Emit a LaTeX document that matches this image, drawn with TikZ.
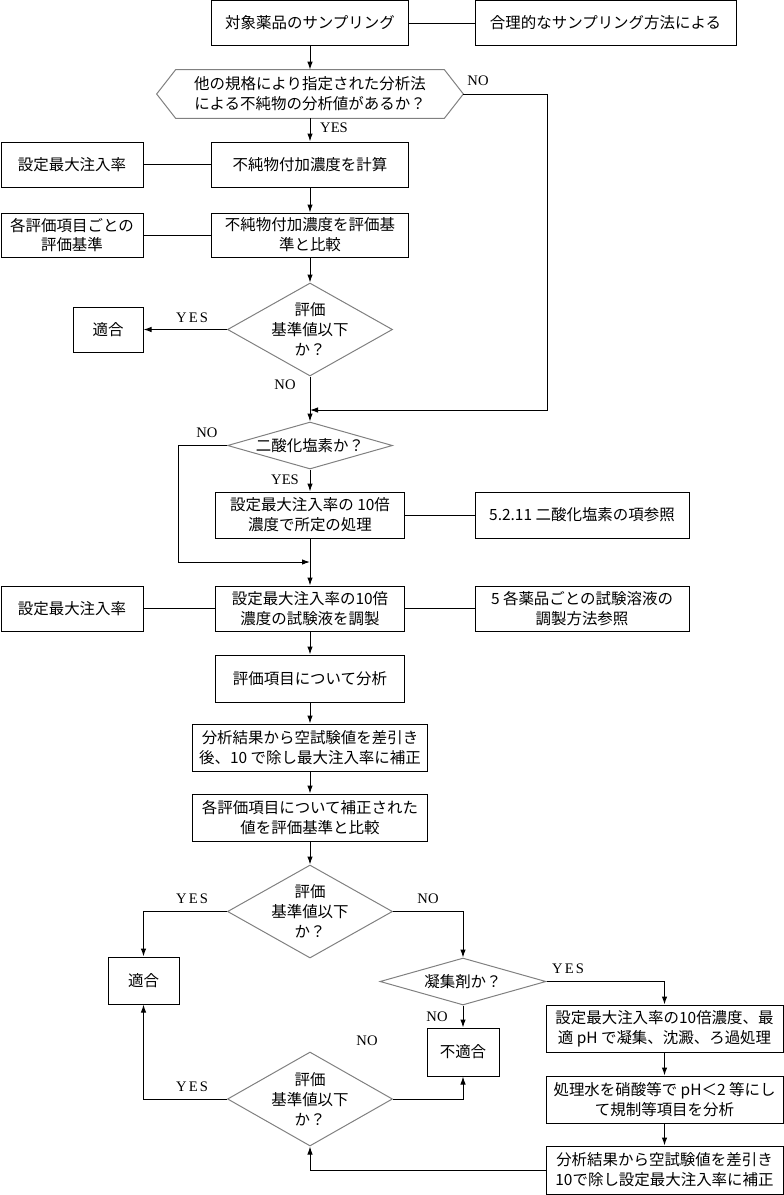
\documentclass[tikz,border=0pt]{standalone}
\usepackage{fontspec}
\setmainfont{Liberation Serif}
\newfontfamily\jfont{Noto Sans CJK JP}
\newfontfamily\lspfont[LetterSpace=15]{Liberation Serif}
\usetikzlibrary{shapes.geometric,arrows.meta}
\tikzset{
  box/.style={draw, line width=0.02cm, align=center, inner sep=0pt, font=\jfont\fontsize{8.8}{11.3}\selectfont},
  jtext/.style={align=center, inner sep=0pt, font=\jfont\fontsize{8.8}{11.3}\selectfont},
  decision/.style={draw=gray, line width=0.02cm, diamond, inner sep=0pt},
  link/.style={line width=0.02cm},
  flow/.style={line width=0.02cm, -{Latex[length=0.16cm,width=0.11cm]}},
  answer/.style={font=\fontsize{8.3}{9}\selectfont, inner sep=0pt},
  answersp/.style={font=\lspfont\fontsize{8.3}{9}\selectfont, inner sep=0pt},
}
\begin{document}
\begin{tikzpicture}
\useasboundingbox (0,0) rectangle (15.68,-23.90);

% Marking box smp and its note
\node[box, minimum width=3.94cm, minimum height=0.90cm] (smp) at (6.20,-0.46) {対象薬品のサンプリング};
\node[box, minimum width=5.22cm, minimum height=0.90cm] (smpR) at (12.11,-0.46) {合理的なサンプリング方法による};
\draw[link] (smp) -- (smpR);

% Marking hexagon hx
\node[jtext, minimum width=5.36cm, minimum height=0.96cm] (hx) at (6.20,-1.88) {他の規格により指定された分析法\\による不純物の分析値があるか？};
\coordinate (hxL) at ([xshift=-0.38cm]hx.west);
\coordinate (hxR) at ([xshift=0.38cm]hx.east);
\draw[link, draw=gray] (hx.north west) -- (hx.north east) -- (hxR) -- (hx.south east) -- (hx.south west) -- (hxL) -- cycle;
\draw[flow] (smp) -- (hx);

% Drawing line hx NO
\coordinate (noR) at (10.94,-8.20);
\coordinate (join1) at (6.20,-8.20);
\draw[flow] (hxR) -| (noR) -- (join1);
\node[answer] (hxno) at (9.56,-1.62) {NO};

% Marking box calc and rate1
\node[box, minimum width=3.94cm, minimum height=0.90cm] (calc) at (6.20,-3.29) {不純物付加濃度を計算};
\node[box, minimum width=2.84cm, minimum height=0.90cm] (rate1) at (1.44,-3.29) {設定最大注入率};
\draw[link] (rate1) -- (calc);
\draw[flow] (hx) -- (calc);
\node[answer] (hxyes) at (6.68,-2.56) {YES};

% Marking box cmp and crit
\node[box, minimum width=3.94cm, minimum height=0.88cm] (cmp) at (6.20,-4.70) {不純物付加濃度を評価基\\準と比較};
\node[box, minimum width=2.84cm, minimum height=0.88cm] (crit) at (1.44,-4.70) {各評価項目ごとの\\評価基準};
\draw[link] (crit) -- (cmp);
\draw[flow] (calc) -- (cmp);

% Marking decision q1
\node[decision, minimum width=3.30cm, minimum height=1.86cm] (q1) at (6.20,-6.59) {};
\node[jtext] (q1t) at (q1) {評価\\基準値以下\\か？};
\draw[flow] (cmp) -- (q1);
\node[box, minimum width=1.40cm, minimum height=0.90cm] (ok1) at (2.16,-6.59) {適合};
\draw[flow] (q1.west) -- (ok1.east);
\node[answersp] (q1yes) at (3.84,-6.36) {YES};
\node[answer] (q1no) at (5.70,-7.70) {NO};

% Marking decision q2
\node[decision, minimum width=3.30cm, minimum height=0.94cm] (q2) at (6.20,-8.91) {};
\node[jtext] (q2t) at (q2) {二酸化塩素か？};
\draw[flow] (q1.south) -- (q2.north);
\coordinate (nl) at (3.56,-11.24);
\coordinate (join2) at (6.20,-11.24);
\draw[flow] (q2.west) -| (nl) -- (join2);
\node[answer] (q2no) at (4.14,-8.66) {NO};

% Marking box cl and clR
\node[box, minimum width=3.78cm, minimum height=0.92cm] (cl) at (6.20,-10.30) {設定最大注入率の 10倍\\濃度で所定の処理};
\node[box, minimum width=4.28cm, minimum height=0.92cm] (clR) at (11.64,-10.30) {5.2.11 二酸化塩素の項参照};
\draw[link] (cl) -- (clR);
\draw[flow] (q2.south) -- (cl.north);
\node[answer] (q2yes) at (5.70,-9.60) {YES};

% Marking box prep, rate2 and prepR
\node[box, minimum width=3.78cm, minimum height=0.90cm] (prep) at (6.20,-12.17) {設定最大注入率の10倍\\濃度の試験液を調製};
\node[box, minimum width=2.84cm, minimum height=0.90cm] (rate2) at (1.44,-12.17) {設定最大注入率};
\node[box, minimum width=4.28cm, minimum height=0.90cm] (prepR) at (11.64,-12.17) {5 各薬品ごとの試験溶液の\\調製方法参照};
\draw[link] (rate2) -- (prep);
\draw[link] (prep) -- (prepR);
\draw[flow] (cl) -- (prep);

% Marking boxes ana, corr and cmp2
\node[box, minimum width=3.78cm, minimum height=0.94cm] (ana) at (6.20,-13.57) {評価項目について分析};
\node[box, minimum width=4.70cm, minimum height=0.94cm] (corr) at (6.20,-14.95) {分析結果から空試験値を差引き\\後、10 で除し最大注入率に補正};
\node[box, minimum width=4.70cm, minimum height=0.94cm] (cmp2) at (6.20,-16.35) {各評価項目について補正された\\値を評価基準と比較};
\draw[flow] (prep) -- (ana);
\draw[flow] (ana) -- (corr);
\draw[flow] (corr) -- (cmp2);

% Marking decision q3
\node[decision, minimum width=3.30cm, minimum height=1.86cm] (q3) at (6.20,-18.23) {};
\node[jtext] (q3t) at (q3) {評価\\基準値以下\\か？};
\draw[flow] (cmp2) -- (q3);
\node[box, minimum width=1.42cm, minimum height=0.94cm] (ok2) at (2.87,-19.61) {適合};
\draw[flow] (q3.west) -| (ok2.north);
\node[answersp] (q3yes) at (3.84,-17.98) {YES};

% Marking decision q4
\node[decision, minimum width=3.32cm, minimum height=0.94cm] (q4) at (9.26,-19.63) {};
\node[jtext] (q4t) at (q4) {凝集剤か？};
\draw[flow] (q3.east) -| (q4.north);
\node[answer] (q3no) at (8.56,-17.98) {NO};

% Marking box ng
\node[box, minimum width=1.44cm, minimum height=0.96cm] (ng) at (9.26,-21.04) {不適合};
\draw[flow] (q4.south) -- (ng.north);
\node[answer] (q4no) at (8.74,-20.34) {NO};

% Marking boxes coag, acid and corr2
\node[box, minimum width=4.74cm, minimum height=0.94cm] (coag) at (13.29,-20.57) {設定最大注入率の10倍濃度、最\\適 pH で凝集、沈澱、ろ過処理};
\node[box, minimum width=4.74cm, minimum height=0.94cm] (acid) at (13.29,-21.99) {処理水を硝酸等で pH＜2 等にし\\て規制等項目を分析};
\node[box, minimum width=4.74cm, minimum height=0.96cm] (corr2) at (13.29,-23.40) {分析結果から空試験値を差引き\\10で除し設定最大注入率に補正};
\draw[flow] (q4.east) -| (coag.north);
\node[answersp] (q4yes) at (11.36,-19.38) {YES};
\draw[flow] (coag) -- (acid);
\draw[flow] (acid) -- (corr2);

% Marking decision q5
\node[decision, minimum width=3.30cm, minimum height=1.88cm] (q5) at (6.20,-21.98) {};
\node[jtext] (q5t) at (q5) {評価\\基準値以下\\か？};
\draw[flow] (corr2.west) -| (q5.south);
\draw[flow] (q5.west) -| (ok2.south);
\draw[flow] (q5.east) -| (ng.south);
\node[answersp] (q5yes) at (3.84,-21.74) {YES};
\node[answer] (q5no) at (7.34,-20.82) {NO};
\end{tikzpicture}
\end{document}
